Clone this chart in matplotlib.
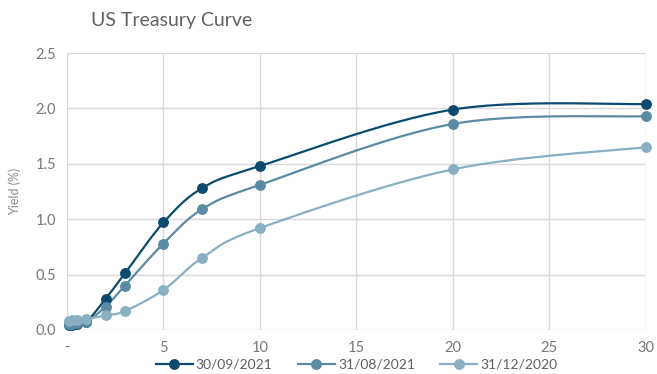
import numpy as np
import matplotlib.pyplot as plt

plt.rcParams['font.family'] = ['Lato', 'DejaVu Sans']

# maturities in years
maturity = [1/12, 0.25, 0.5, 1, 2, 3, 5, 7, 10, 20, 30]

sep_2021 = [0.04, 0.04, 0.05, 0.07, 0.28, 0.51, 0.97, 1.28, 1.48, 1.99, 2.04]
aug_2021 = [0.05, 0.05, 0.06, 0.07, 0.21, 0.40, 0.78, 1.09, 1.31, 1.86, 1.93]
dec_2020 = [0.08, 0.09, 0.09, 0.10, 0.13, 0.17, 0.36, 0.65, 0.92, 1.45, 1.65]

series_names = ['30/09/2021', '31/08/2021', '31/12/2020']
colors = ['#0c4a6e', '#5a8aa4', '#8aafc2']

x_ticks = [0, 5, 10, 15, 20, 25, 30]
x_tick_labels = ['-', '5', '10', '15', '20', '25', '30']


def smooth(xs, ys, n=30):
    # Catmull-Rom style smoothing between points, like spreadsheet "smoothed lines"
    xs = np.asarray(xs, float)
    ys = np.asarray(ys, float)
    px = np.concatenate([[xs[0]], xs, [xs[-1]]])
    py = np.concatenate([[ys[0]], ys, [ys[-1]]])
    out_x, out_y = [], []
    for i in range(1, len(px) - 2):
        p0, p1, p2, p3 = (np.array([px[j], py[j]]) for j in (i - 1, i, i + 1, i + 2))
        c1 = p1 + (p2 - p0) / 6
        c2 = p2 - (p3 - p1) / 6
        t = np.linspace(0, 1, n)[:, None]
        pts = ((1 - t) ** 3) * p1 + 3 * ((1 - t) ** 2) * t * c1 + 3 * (1 - t) * t ** 2 * c2 + t ** 3 * p2
        out_x.extend(pts[:, 0])
        out_y.extend(pts[:, 1])
    return out_x, out_y


fig = plt.figure(figsize=(6.57, 3.74), dpi=100)
ax = fig.add_axes([0.102, 0.118, 0.881, 0.740])

for ys, name, c in zip([sep_2021, aug_2021, dec_2020], series_names, colors):
    sx, sy = smooth(maturity, ys)
    ax.plot(sx, sy, color=c, lw=1.6, clip_on=False, zorder=3)
    ax.plot(maturity, ys, 'o', color=c, ms=6.8, clip_on=False, zorder=4)
    ax.plot([], [], '-o', color=c, lw=1.6, ms=6.8, label=name)

ax.set_xlim(0, 30)
ax.set_ylim(0, 2.5)
ax.set_xticks(x_ticks)
ax.set_xticklabels(x_tick_labels)
ax.set_yticks(np.arange(0, 2.51, 0.5))
ax.set_yticklabels([f'{v:.1f}' for v in np.arange(0, 2.51, 0.5)])
ax.grid(True, color='#d9d9d9', lw=1)
ax.set_axisbelow(True)
for s in ax.spines.values():
    s.set_visible(False)
ax.tick_params(length=0, colors='#777777', labelsize=10.5, pad=8)

ax.set_ylabel('Yield (%)', color='#8c8c8c', fontsize=9, labelpad=10)
fig.text(0.138, 0.93, 'US Treasury Curve', color='#606060', fontsize=14)

ax.legend(loc='upper center', bbox_to_anchor=(0.5, -0.085), ncol=3, frameon=False,
          fontsize=10, labelcolor='#606060', handlelength=2.7, handletextpad=0.2,
          columnspacing=1.8, borderaxespad=0)

fig.savefig('out.png', dpi=100)
